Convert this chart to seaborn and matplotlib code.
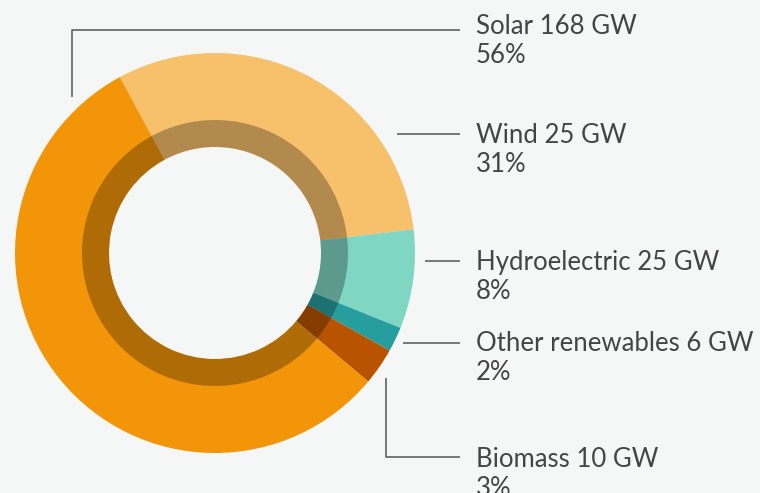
import matplotlib
matplotlib.use("Agg")
import matplotlib.pyplot as plt
import seaborn as sns

# data (clockwise from the top-left)
sources = ["Wind", "Hydroelectric", "Other renewables", "Biomass", "Solar"]
capacity_gw = [25, 25, 6, 10, 168]
shares = [31, 8, 2, 3, 56]
colors = ["#f7c06b", "#7fd6c3", "#279e9e", "#b85400", "#f39508"]

bg = "#f5f7f6"
sns.set_theme(style="white")
plt.rcParams["font.family"] = ["Lato", "DejaVu Sans"]

fig = plt.figure(figsize=(7.6, 4.93), dpi=100, facecolor=bg)
ax = fig.add_axes([0, 0, 1, 1])
ax.set_facecolor(bg)

H = 493
cx, cy = 215, H - 253

# outer donut
ax.pie(shares, colors=colors, startangle=118.4, counterclock=False,
       radius=200, center=(cx, cy), frame=True,
       wedgeprops=dict(width=94, linewidth=0))
# darker inner band
ax.pie(shares, colors=["black"] * len(shares), startangle=118.4, counterclock=False,
       radius=133, center=(cx, cy), frame=True,
       wedgeprops=dict(width=27, linewidth=0, alpha=0.28))
ax.set_xlim(0, 760)
ax.set_ylim(0, 493)
ax.set_aspect("equal")
ax.axis("off")

# leader lines (pixel coords from top)
leaders = {
    "Solar": [(72, 97), (72, 29.5), (460, 29.5)],
    "Wind": [(397, 134), (460, 134)],
    "Hydroelectric": [(425, 261), (460, 261)],
    "Other renewables": [(403, 343), (460, 343)],
    "Biomass": [(386, 378), (386, 457), (460, 457)],
}
text_base = {"Solar": 34, "Wind": 143, "Hydroelectric": 270,
             "Other renewables": 351, "Biomass": 467}

for name, gw, pct in zip(sources, capacity_gw, shares):
    pts = leaders[name]
    ax.plot([p[0] for p in pts], [H - p[1] for p in pts], color="#555555", lw=1.1,
            solid_capstyle="butt")
    base = text_base[name]
    ax.text(476, H - base, f"{name} {gw} GW", fontsize=18.5, color="#454545",
            ha="left", va="baseline")
    ax.text(476, H - base - 29, f"{pct}%", fontsize=18.5, color="#454545",
            ha="left", va="baseline")

fig.savefig("out.png", dpi=100, facecolor=bg)
